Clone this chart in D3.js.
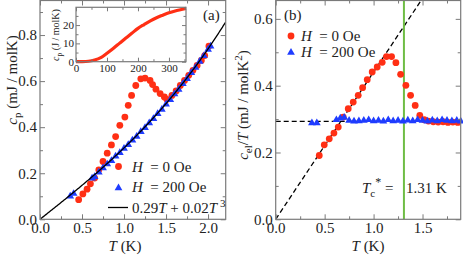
<!DOCTYPE html>
<html>
  <head>
    <meta charset="utf-8">
    <title>cp and cel/T</title>
    <style>
      body { margin: 0; background: #fff; }
      svg text { font-family: "Liberation Serif", "DejaVu Serif", serif; fill: #222; }
    </style>
  </head>
  <body>
    <div id="chart"></div>
  </body>
  <script src="https://cdn.jsdelivr.net/npm/d3@7"></script>
  <script type="text/javascript">
    // panel (a): c_p vs T
    var zeroT = [0.46, 0.51, 0.56, 0.60, 0.65, 0.70, 0.75, 0.80, 0.85, 0.90, 0.95, 1.01, 1.05, 1.09, 1.14, 1.20, 1.25, 1.31,
                 1.34, 1.38, 1.43, 1.48, 1.51, 1.57, 1.62, 1.67, 1.72, 1.77, 1.82, 1.87, 1.92, 1.96, 2.01];
    var zeroCp = [0.085, 0.110, 0.131, 0.154, 0.179, 0.215, 0.251, 0.287, 0.323, 0.359, 0.408, 0.444, 0.495, 0.538, 0.581, 0.610, 0.613, 0.603,
                  0.585, 0.565, 0.546, 0.531, 0.521, 0.538, 0.557, 0.581, 0.603, 0.625, 0.647, 0.668, 0.690, 0.711, 0.752];
    var fieldT = [0.36, 0.40, 0.62, 0.65, 0.70, 0.75, 0.80, 0.85, 0.90, 0.95, 1.00, 1.05, 1.10, 1.15, 1.20, 1.25, 1.30, 1.35,
                  1.40, 1.45, 1.50, 1.55, 1.60, 1.65, 1.70, 1.75, 1.80, 1.85, 1.90, 1.95, 2.00, 2.03];
    var fieldCp = [0.104, 0.115, 0.182, 0.188, 0.208, 0.226, 0.243, 0.258, 0.277, 0.292, 0.311, 0.327, 0.347, 0.363, 0.384, 0.401, 0.422, 0.440,
                   0.462, 0.480, 0.503, 0.523, 0.547, 0.567, 0.592, 0.614, 0.640, 0.662, 0.689, 0.713, 0.741, 0.755];
    var fitCoef = [0.29, 0.02]; // 0.29T + 0.02T^3

    // inset: c_p (J / molK) up to room temperature
    var insetT = [0, 20, 40, 60, 80, 100, 120, 140, 160, 180, 200, 220, 240, 260, 280, 300, 320, 340, 355];
    var insetCp = [0, 0.05, 0.25, 0.9, 2.2, 4.6, 7.2, 10.0, 12.8, 15.5, 18.2, 20.3, 22.3, 24.0, 25.4, 26.7, 27.7, 28.5, 29.1];

    // panel (b): c_el/T vs T
    var elZeroT = [0.445, 0.496, 0.547, 0.595, 0.639, 0.690, 0.741, 0.792, 0.843, 0.888, 0.935, 0.986, 1.037, 1.088, 1.132, 1.184,
                   1.228, 1.276, 1.330, 1.378, 1.425, 1.472, 1.517, 1.56, 1.61, 1.66, 1.71, 1.76, 1.81, 1.86];
    var elZeroV = [0.191, 0.223, 0.241, 0.258, 0.276, 0.306, 0.331, 0.351, 0.371, 0.394, 0.418, 0.441, 0.456, 0.470, 0.487, 0.487,
                   0.469, 0.434, 0.401, 0.371, 0.341, 0.311, 0.298, 0.294, 0.292, 0.291, 0.292, 0.290, 0.291, 0.290];
    var elFieldT = [0.37, 0.42, 0.62, 0.66, 0.70, 0.75, 0.80, 0.85, 0.90, 0.95, 1.00, 1.05, 1.10, 1.15, 1.20, 1.25, 1.30, 1.35,
                    1.40, 1.45, 1.50, 1.55, 1.60, 1.65, 1.70, 1.75, 1.80, 1.85, 1.89];
    var elFieldV = [0.291, 0.291, 0.300, 0.305, 0.307, 0.298, 0.296, 0.297, 0.298, 0.300, 0.297, 0.298, 0.296, 0.300, 0.297, 0.298, 0.296, 0.299,
                    0.297, 0.300, 0.298, 0.296, 0.299, 0.297, 0.300, 0.298, 0.297, 0.298, 0.296];
    var dashSlope = 0.441;
    var normalLevel = 0.293;
    var tcStar = 1.31;

    var red = "#ff2f14";
    var blue = "#1f3cff";
    var frameColor = "#7a7a7a";
    var serif = "'Liberation Serif', 'DejaVu Serif', serif";

    var svg = d3.select("#chart")
      .append("svg")
      .attr("width", 463)
      .attr("height", 257)
      .style("font-family", serif);

    var xL = d3.scaleLinear().domain([0, 2.21]).range([40, 225.7]);
    var yL = d3.scaleLinear().domain([0, 0.95]).range([219.3, 0.5]);
    var xR = d3.scaleLinear().domain([0, 1.89]).range([275.7, 460.7]);
    var yR = d3.scaleLinear().domain([0, 0.655]).range([219.3, 0.5]);
    var xI = d3.scaleLinear().domain([0, 355]).range([76, 186]);
    var yI = d3.scaleLinear().domain([0, 29.7]).range([61.7, 7.3]);

    function zip(a, b) {
      return a.map(function(d, i) { return [d, b[i]]; });
    }

    // inward ticks on all four sides, labels only bottom / left
    function frame(g, x, y, xMaj, xMin, yMaj, yMin, fmt, big, small, fs, pad) {
      var x0 = x.range()[0], x1 = x.range()[1], y0 = y.range()[0], y1 = y.range()[1];
      var sides = [
        [d3.axisBottom, x, "translate(0," + y0 + ")", xMaj, xMin, true],
        [d3.axisTop, x, "translate(0," + y1 + ")", xMaj, xMin, false],
        [d3.axisLeft, y, "translate(" + x0 + ",0)", yMaj, yMin, true],
        [d3.axisRight, y, "translate(" + x1 + ",0)", yMaj, yMin, false]
      ];
      sides.forEach(function(s) {
        var mg = g.append("g").attr("transform", s[2])
          .call(s[0](s[1]).tickValues(s[4]).tickSize(-small).tickFormat(""));
        mg.select(".domain").remove();
        mg.selectAll("line").attr("stroke", frameColor);
        var ag = g.append("g").attr("transform", s[2])
          .call(s[0](s[1]).tickValues(s[3]).tickSize(-big).tickPadding(pad)
            .tickFormat(s[5] ? fmt : ""));
        ag.attr("font-family", serif).attr("font-size", fs);
        ag.select(".domain").remove();
        ag.selectAll("line").attr("stroke", frameColor);
        ag.selectAll("text").attr("fill", "#222");
      });
      g.append("rect")
        .attr("x", x0).attr("y", y1)
        .attr("width", x1 - x0).attr("height", y0 - y1)
        .attr("fill", "none").attr("stroke", frameColor).attr("stroke-width", 1.2);
    }

    var fmt1 = d3.format(".1f");

    // ---------- panel (a)
    var gA = svg.append("g");
    svg.append("clipPath").attr("id", "clipA").append("rect")
      .attr("x", 40).attr("y", 0.5).attr("width", 185.7).attr("height", 218.8);

    var fitPts = d3.range(0, 2.215, 0.01).map(function(t) {
      return [t, fitCoef[0] * t + fitCoef[1] * t * t * t];
    });

    gA.selectAll("circle.zero")
      .data(zip(zeroT, zeroCp))
      .enter()
      .append("circle")
      .attr("cx", function(d) { return xL(d[0]); })
      .attr("cy", function(d) { return yL(d[1]); })
      .attr("r", 3.4)
      .attr("fill", red);

    gA.selectAll("path.field")
      .data(zip(fieldT, fieldCp))
      .enter()
      .append("path")
      .attr("d", d3.symbol(d3.symbolTriangle, 26))
      .attr("transform", function(d) { return "translate(" + xL(d[0]) + "," + (yL(d[1]) + 0.8) + ")"; })
      .attr("fill", blue);

    gA.append("path")
      .attr("d", d3.line().x(function(d) { return xL(d[0]); }).y(function(d) { return yL(d[1]); })(fitPts))
      .attr("clip-path", "url(#clipA)")
      .attr("fill", "none")
      .attr("stroke", "#000")
      .attr("stroke-width", 1.3);

    frame(gA, xL, yL, [0, 0.5, 1, 1.5, 2], [0.25, 0.75, 1.25, 1.75], [0, 0.2, 0.4, 0.6, 0.8], [0.1, 0.3, 0.5, 0.7, 0.9],
      fmt1, 5, 3, 15, 3);

    gA.append("text").attr("x", 203).attr("y", 20).style("font-size", "15px").text("(a)");

    // legend (a)
    gA.append("circle").attr("cx", 118.5).attr("cy", 166.5).attr("r", 3.4).attr("fill", red);
    gA.append("path").attr("d", d3.symbol(d3.symbolTriangle, 26))
      .attr("transform", "translate(118.5,188)").attr("fill", blue);
    gA.append("line").attr("x1", 108).attr("x2", 128).attr("y1", 207.5).attr("y2", 207.5)
      .attr("stroke", "#000").attr("stroke-width", 1.3);
    var la = gA.append("text").attr("x", 132).attr("y", 171.5).style("font-size", "15px");
    la.append("tspan").style("font-style", "italic").text("H");
    la.append("tspan").text("\u00a0 = 0 Oe");
    var lb = gA.append("text").attr("x", 132).attr("y", 192).style("font-size", "15px");
    lb.append("tspan").style("font-style", "italic").text("H");
    lb.append("tspan").text("\u00a0 = 200 Oe");
    var lc = gA.append("text").attr("x", 132).attr("y", 212.5).style("font-size", "15px");
    lc.append("tspan").text("0.29");
    lc.append("tspan").style("font-style", "italic").text("T");
    lc.append("tspan").text(" + 0.02");
    lc.append("tspan").style("font-style", "italic").text("T");
    lc.append("tspan").attr("dy", -6).style("font-size", "11px").text(" 3");

    // axis labels (a)
    var ya = gA.append("text").attr("transform", "translate(17,80) rotate(-90)")
      .attr("text-anchor", "middle").style("font-size", "15px");
    ya.append("tspan").style("font-style", "italic").text("c");
    ya.append("tspan").attr("dy", 4).style("font-size", "11px").text("p");
    ya.append("tspan").attr("dy", -4).text(" (mJ / molK)");
    var xa = gA.append("text").attr("x", 125).attr("y", 251).attr("text-anchor", "middle").style("font-size", "15px");
    xa.append("tspan").style("font-style", "italic").text("T");
    xa.append("tspan").text(" (K)");

    // ---------- inset
    var gI = svg.append("g");
    gI.append("rect").attr("x", 76).attr("y", 7.3).attr("width", 110).attr("height", 54.4).attr("fill", "#fff");
    gI.append("path")
      .attr("d", d3.line().curve(d3.curveMonotoneX)
        .x(function(d) { return xI(d[0]); }).y(function(d) { return yI(d[1]); })(zip(insetT, insetCp)))
      .attr("fill", "none")
      .attr("stroke", red)
      .attr("stroke-width", 3.2);
    frame(gI, xI, yI, [0, 100, 200, 300], [50, 150, 250, 350], [0, 10, 20], [5, 15, 25],
      d3.format("d"), 4, 2.5, 11, 2);
    var yi = gI.append("text").attr("transform", "translate(59,35) rotate(-90)")
      .attr("text-anchor", "middle").style("font-size", "10px");
    yi.append("tspan").style("font-style", "italic").text("c");
    yi.append("tspan").attr("dy", 3).style("font-size", "7.5px").text("p");
    yi.append("tspan").attr("dy", -3).text(" (J / molK)");

    // ---------- panel (b)
    var gB = svg.append("g");
    svg.append("clipPath").attr("id", "clipB").append("rect")
      .attr("x", 275.7).attr("y", 0.5).attr("width", 185).attr("height", 218.8);

    gB.append("line")
      .attr("x1", xR(0)).attr("y1", yR(normalLevel))
      .attr("x2", xR(1.89)).attr("y2", yR(normalLevel))
      .attr("stroke", "#000").attr("stroke-width", 1.3).attr("stroke-dasharray", "5,3");
    gB.append("line")
      .attr("clip-path", "url(#clipB)")
      .attr("x1", xR(0)).attr("y1", yR(0))
      .attr("x2", xR(1.6)).attr("y2", yR(1.6 * dashSlope))
      .attr("stroke", "#000").attr("stroke-width", 1.3).attr("stroke-dasharray", "5,3");

    gB.append("line")
      .attr("x1", xR(tcStar)).attr("x2", xR(tcStar))
      .attr("y1", yR(0)).attr("y2", yR(0.655))
      .attr("stroke", "#6fbd45").attr("stroke-width", 2);

    gB.selectAll("circle.zero")
      .data(zip(elZeroT, elZeroV))
      .enter()
      .append("circle")
      .attr("cx", function(d) { return xR(d[0]); })
      .attr("cy", function(d) { return yR(d[1]); })
      .attr("r", 3.4)
      .attr("fill", red);

    gB.selectAll("path.field")
      .data(zip(elFieldT, elFieldV))
      .enter()
      .append("path")
      .attr("d", d3.symbol(d3.symbolTriangle, 26))
      .attr("transform", function(d) { return "translate(" + xR(d[0]) + "," + (yR(d[1]) + 0.8) + ")"; })
      .attr("fill", blue);

    frame(gB, xR, yR, [0, 0.5, 1, 1.5], [0.25, 0.75, 1.25, 1.75], [0, 0.2, 0.4, 0.6], [0.1, 0.3, 0.5],
      fmt1, 5, 3, 15, 3);

    gB.append("text").attr("x", 284).attr("y", 20).style("font-size", "15px").text("(b)");

    gB.append("circle").attr("cx", 291).attr("cy", 36).attr("r", 3.4).attr("fill", red);
    gB.append("path").attr("d", d3.symbol(d3.symbolTriangle, 26))
      .attr("transform", "translate(291,52.5)").attr("fill", blue);
    var lr1 = gB.append("text").attr("x", 301).attr("y", 41).style("font-size", "15px");
    lr1.append("tspan").style("font-style", "italic").text("H");
    lr1.append("tspan").text("\u00a0 = 0 Oe");
    var lr2 = gB.append("text").attr("x", 301).attr("y", 57).style("font-size", "15px");
    lr2.append("tspan").style("font-style", "italic").text("H");
    lr2.append("tspan").text("\u00a0 = 200 Oe");

    var tc = gB.append("text").attr("x", 362).attr("y", 193).style("font-size", "15px");
    tc.append("tspan").style("font-style", "italic").text("T");
    tc.append("tspan").attr("dy", 4).style("font-size", "11px").text("c");
    tc.append("tspan").attr("dy", -11).style("font-size", "12px").text("*");
    tc.append("tspan").attr("dy", 7).text(" =");
    gB.append("text").attr("x", 406).attr("y", 193).style("font-size", "15px").text("1.31 K");

    var yb = gB.append("text").attr("transform", "translate(248,105) rotate(-90)")
      .attr("text-anchor", "middle").style("font-size", "15px");
    yb.append("tspan").style("font-style", "italic").text("c");
    yb.append("tspan").attr("dy", 4).style("font-size", "11px").text("el");
    yb.append("tspan").attr("dy", -4).text("/");
    yb.append("tspan").style("font-style", "italic").text("T");
    yb.append("tspan").text(" (mJ / molK");
    yb.append("tspan").attr("dy", -6).style("font-size", "11px").text("2");
    yb.append("tspan").attr("dy", 6).text(")");
    var xb = gB.append("text").attr("x", 368).attr("y", 251).attr("text-anchor", "middle").style("font-size", "15px");
    xb.append("tspan").style("font-style", "italic").text("T");
    xb.append("tspan").text(" (K)");
  </script>
</html>
